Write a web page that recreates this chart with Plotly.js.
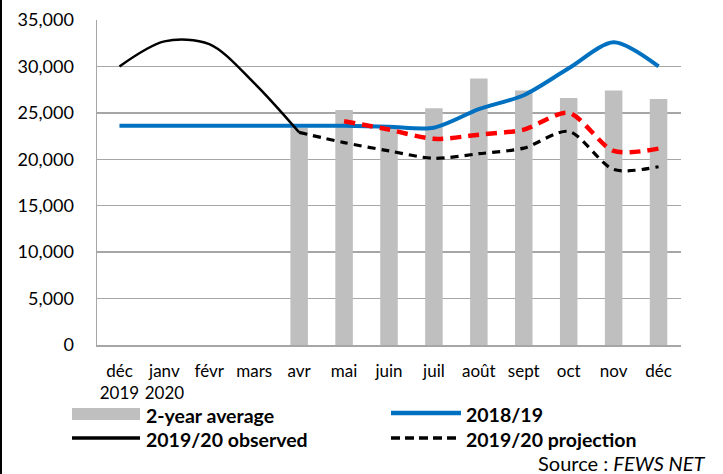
<!DOCTYPE html>
<html>
<head>
<meta charset="utf-8">
<script src="https://cdn.plot.ly/plotly-3.0.1.min.js"></script>
<style>html,body{margin:0;padding:0;background:#fff;}#chart{width:723px;height:474px;}</style>
</head>
<body>
<div id="chart"></div>
<script>
const categories = ["déc<br>2019","janv<br>2020","févr","mars","avr","mai","juin","juil","août","sept","oct","nov","déc"];
const avg2yr      = [null,null,null,null,23400,25300,23300,25500,28700,27400,26600,27400,26500];
const s2018_19    = [23600,23600,23600,23600,23600,23600,23500,23400,25400,26900,29800,32600,30000];
const observed    = [30000,32700,32400,28200,22900,null,null,null,null,null,null,null,null];
const projection  = [null,null,null,null,22900,21800,20900,20100,20600,21200,23000,18900,19200];
const projRed     = [null,null,null,null,null,24100,23200,22200,22650,23200,25000,20900,21150];

const yTicks = [0,5000,10000,15000,20000,25000,30000,35000];
const yTickText = ["0","5,000","10,000","15,000","20,000","25,000","30,000","35,000"];

const FONT = "Lato, 'Open Sans', sans-serif";

const traces = [
  {type:'bar', x:categories, y:avg2yr, marker:{color:'#bfbfbf'}, width:0.39, name:'2-year average', hoverinfo:'skip'},
  {type:'scatter', mode:'lines', x:categories, y:s2018_19, line:{color:'#0070c0', width:4, shape:'spline', smoothing:0.8}, name:'2018/19'},
  {type:'scatter', mode:'lines', x:categories, y:observed, line:{color:'#000000', width:2.5, shape:'spline', smoothing:0.9}, name:'2019/20 observed'},
  {type:'scatter', mode:'lines', x:categories, y:projection, line:{color:'#000000', width:3.2, dash:'8px,6px', shape:'spline', smoothing:0.8}, name:'2019/20 projection'},
  {type:'scatter', mode:'lines', x:categories, y:projRed, line:{color:'#ff0000', width:4.5, dash:'11px,7px', shape:'spline', smoothing:0.8}, name:'projection (alt)'}
];

// paper coordinate helpers for legend (plot area: x 97..681 px, y 20..345 px)
const L=97, R=681, T=20, B=345;
const px = v => (v-L)/(R-L);
const py = v => (B-v)/(B-T);

const shapes = [
  {type:'rect', xref:'paper', yref:'paper', x0:px(72), x1:px(140), y0:py(420), y1:py(408), fillcolor:'#bfbfbf', line:{width:0}},
  {type:'line', xref:'paper', yref:'paper', x0:px(72), x1:px(140), y0:py(438), y1:py(438), line:{color:'#000', width:3.5}},
  {type:'line', xref:'paper', yref:'paper', x0:px(391), x1:px(461), y0:py(413), y1:py(413), line:{color:'#0070c0', width:4.5}},
  {type:'line', xref:'paper', yref:'paper', x0:px(391), x1:px(461), y0:py(438), y1:py(438), line:{color:'#000', width:3.5, dash:'9px,5px'}},
  {type:'line', xref:'paper', yref:'paper', x0:px(1), x1:px(1), y0:py(474), y1:py(0), line:{color:'#000', width:2}}
];

const ann = (text, x, y, opts={}) => Object.assign({xref:'paper', yref:'paper', x:px(x), y:py(y), text:text, showarrow:false, xanchor:'left', yanchor:'middle', borderpad:0, font:{family:FONT, size:19.5, color:'#000', weight:'bold'}}, opts);

const annotations = [
  ann('2-year average', 145, 415),
  ann('2019/20 observed', 145, 439),
  ann('2018/19', 465, 414),
  ann('2019/20 projection', 465, 439),
  ann('Source : <i>FEWS NET</i>', 706, 463, {xanchor:'right', font:{family:FONT, size:20, color:'#000'}})
];

const layout = {
  width:723, height:474,
  margin:{l:L, r:723-R, t:T, b:474-B, pad:0},
  paper_bgcolor:'#fff', plot_bgcolor:'#fff',
  showlegend:false,
  font:{family:FONT, size:18, color:'#000'},
  xaxis:{type:'category', categoryorder:'array', categoryarray:categories, showgrid:false, showline:true, linecolor:'#a6a6a6', linewidth:1.5, ticks:'', tickfont:{family:FONT, size:17, color:'#000'}, ticklabelstandoff:10, tickangle:0, fixedrange:true},
  yaxis:{range:[0,35000], tickvals:yTicks, ticktext:yTickText, showgrid:true, gridcolor:'#a6a6a6', gridwidth:1.5, showline:true, linecolor:'#a6a6a6', linewidth:1.5, zeroline:false, ticks:'', tickfont:{family:FONT, size:18, color:'#000'}, ticklabelstandoff:18, fixedrange:true},
  shapes:shapes,
  annotations:annotations,
  bargap:0.61
};

Plotly.newPlot('chart', traces, layout, {staticPlot:true, displayModeBar:false});
</script>
</body>
</html>
